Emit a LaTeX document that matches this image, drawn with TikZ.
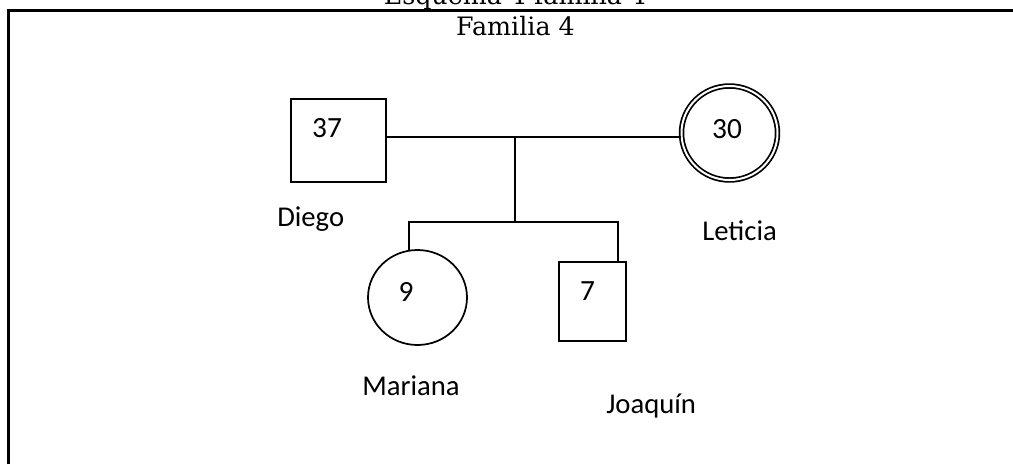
\documentclass[tikz,border=0pt]{standalone}
\usepackage{fontspec}
\setmainfont{DejaVu Serif}
\newfontfamily\calibri{Carlito}
\usetikzlibrary{shapes.geometric}
\begin{document}
\begin{tikzpicture}[x=0.75pt,y=-0.75pt,
  pline/.style={line width=1.3pt},
  pframe/.style={line width=2.2pt},
  sqperson/.style={draw, line width=1.3pt, rectangle, inner sep=0pt},
  ciperson/.style={draw, line width=1.3pt, ellipse, inner sep=0pt},
  numtxt/.style={font=\calibri\fontsize{22}{24}\selectfont, inner sep=0pt},
  lbltxt/.style={font=\calibri\fontsize{21.5}{24}\selectfont, inner sep=0pt, anchor=base west},
  ttltxt/.style={font=\fontsize{19}{22}\selectfont, inner sep=0pt, anchor=base}]
\useasboundingbox (0,0) rectangle (1013,464);
\clip (0,0) rectangle (1013,464);
\coordinate (fb) at (8.8,464);
\coordinate (fc) at (8.8,10.8);
\coordinate (fr) at (1013,10.8);
\draw[pframe] (fb) -- (fc) -- (fr);
\node[ttltxt] (cap) at (515,4) {Esquema 4 familia 4};
\node[ttltxt] (fam) at (515.5,36) {Familia 4};
% persons
\node[sqperson, minimum width=71.25pt, minimum height=62.25pt] (diego) at (338.5,140.5) {};
\node[ciperson, double, double distance=1.5pt, minimum width=72pt, minimum height=70.5pt] (leticia) at (729.5,133) {};
\node[ciperson, minimum width=74.25pt, minimum height=71.25pt] (mariana) at (417.5,297.5) {};
\node[sqperson, minimum width=50.25pt, minimum height=59.25pt] (joaquin) at (592.5,301.5) {};
% numbers
\node[numtxt] (n37) at (327,128.5) {37};
\node[numtxt] (n30) at (727,129.5) {30};
\node[numtxt] (n9) at (406,291.5) {9};
\node[numtxt] (n7) at (587.5,291.5) {7};
% names
\node[lbltxt] (ldiego) at (277,226) {Diego};
\node[lbltxt] (lleticia) at (702,240) {Leticia};
\node[lbltxt] (lmariana) at (362,395) {Mariana};
\node[lbltxt] (ljoaquin) at (606,413) {Joaqu\'{\i}n};
% connectors
\coordinate (mj) at (515,137);
\coordinate (sib) at (515,222);
\coordinate (sl) at (409,222);
\coordinate (sr) at (618,222);
\draw[pline] (diego.east |- mj) -- (mj) -- (leticia.west |- mj);
\draw[pline] (mj) -- (sib);
\draw[pline] (sl |- mariana.north) ++(0,2) -- (sl) -- (sr) -- (sr |- joaquin.north);
\end{tikzpicture}
\end{document}
